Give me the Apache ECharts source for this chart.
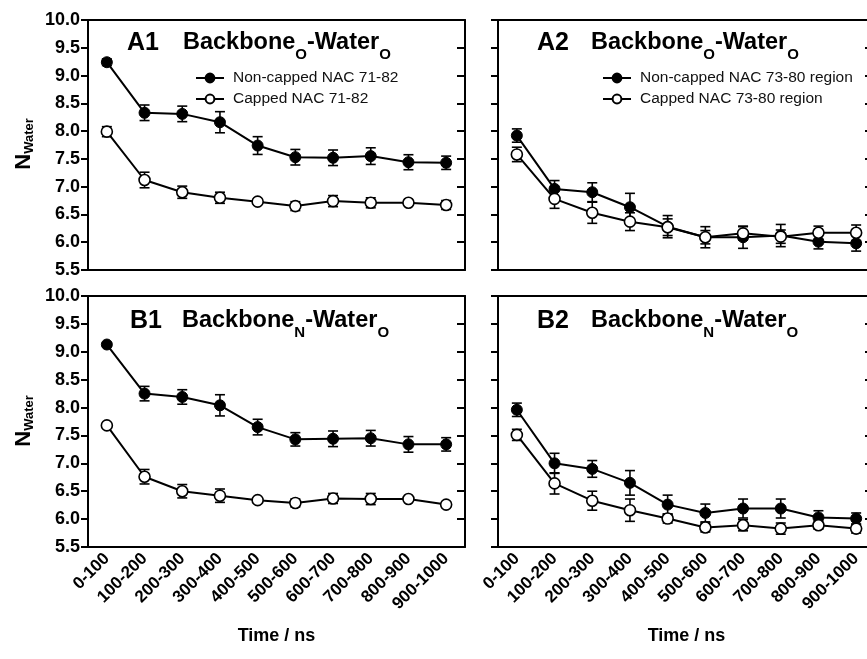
<!DOCTYPE html>
<html>
<head>
<meta charset="utf-8">
<script src="https://cdn.jsdelivr.net/npm/echarts@6/dist/echarts.min.js"></script>
<style>
  html, body { margin: 0; padding: 0; background: #fff; overflow: hidden; }
  /* chart is a little wider than the window: the right frame is cropped like the original figure */
  #root { width: 878px; height: 659px; }
</style>
</head>
<body>
<div id="root"></div>
<script>
const FONT = '"Liberation Sans", Arial, sans-serif';

const categories = ['0-100', '100-200', '200-300', '300-400', '400-500',
    '500-600', '600-700', '700-800', '800-900', '900-1000'];
const yTicks = [5.5, 10.0, 0.5]; // min, max, step

// A1: Backbone_O - Water_O, NAC 71-82
const a1Non = [9.24, 8.33, 8.31, 8.16, 7.74, 7.53, 7.52, 7.55, 7.44, 7.43];
const a1NonErr = [0.06, 0.14, 0.14, 0.19, 0.16, 0.14, 0.14, 0.15, 0.135, 0.12];
const a1Cap = [7.99, 7.12, 6.90, 6.80, 6.73, 6.65, 6.74, 6.71, 6.71, 6.67];
const a1CapErr = [0.09, 0.14, 0.11, 0.10, 0.04, 0.08, 0.10, 0.09, 0.04, 0.08];

// A2: Backbone_O - Water_O, NAC 73-80 region
const a2Non = [7.92, 6.96, 6.90, 6.63, 6.28, 6.09, 6.09, 6.12, 6.01, 5.98];
const a2NonErr = [0.12, 0.15, 0.17, 0.25, 0.20, 0.19, 0.20, 0.20, 0.13, 0.14];
const a2Cap = [7.58, 6.78, 6.53, 6.37, 6.27, 6.09, 6.16, 6.10, 6.17, 6.17];
const a2CapErr = [0.13, 0.17, 0.19, 0.16, 0.15, 0.12, 0.12, 0.12, 0.12, 0.14];

// B1: Backbone_N - Water_O, NAC 71-82
const b1Non = [9.13, 8.25, 8.19, 8.04, 7.65, 7.43, 7.44, 7.45, 7.34, 7.34];
const b1NonErr = [0.03, 0.13, 0.13, 0.19, 0.14, 0.12, 0.14, 0.14, 0.14, 0.12];
const b1Cap = [7.68, 6.76, 6.50, 6.42, 6.34, 6.29, 6.37, 6.36, 6.36, 6.26];
const b1CapErr = [0.03, 0.13, 0.12, 0.12, 0.04, 0.07, 0.09, 0.10, 0.04, 0.05];

// B2: Backbone_N - Water_O, NAC 73-80 region
const b2Non = [7.96, 7.00, 6.90, 6.65, 6.26, 6.11, 6.19, 6.19, 6.03, 6.01];
const b2NonErr = [0.12, 0.18, 0.15, 0.22, 0.17, 0.16, 0.17, 0.17, 0.12, 0.10];
const b2Cap = [7.51, 6.64, 6.33, 6.16, 6.01, 5.85, 5.89, 5.83, 5.89, 5.83];
const b2CapErr = [0.10, 0.19, 0.17, 0.20, 0.08, 0.08, 0.10, 0.10, 0.07, 0.08];

const legendA1 = ['Non-capped NAC 71-82', 'Capped NAC 71-82'];
const legendA2 = ['Non-capped NAC 73-80 region', 'Capped NAC 73-80 region'];

const panels = [
    { non: a1Non, nonErr: a1NonErr, cap: a1Cap, capErr: a1CapErr, names: legendA1 },
    { non: a2Non, nonErr: a2NonErr, cap: a2Cap, capErr: a2CapErr, names: legendA2 },
    { non: b1Non, nonErr: b1NonErr, cap: b1Cap, capErr: b1CapErr, names: ['B1 non-capped', 'B1 capped'] },
    { non: b2Non, nonErr: b2NonErr, cap: b2Cap, capErr: b2CapErr, names: ['B2 non-capped', 'B2 capped'] }
];

const grids = [
    { left: 88, top: 20, width: 377, height: 250 },
    { left: 498, top: 20, width: 377, height: 250 },
    { left: 88, top: 296, width: 377, height: 251 },
    { left: 498, top: 296, width: 377, height: 251 }
];

// measure text so subscripts can be placed after the main text
const ctx = document.createElement('canvas').getContext('2d');
function textWidth(str, size, weight) {
    ctx.font = weight + ' ' + size + 'px ' + FONT;
    return ctx.measureText(str).width;
}
// parts: [text, fontSize, dy]
function subLabel(x, y, parts, rotation, centered) {
    let cx = 0;
    const children = parts.map(p => {
        const el = {
            type: 'text', x: cx, y: p[2],
            style: { text: p[0], fontSize: p[1], fontWeight: 'bold', fontFamily: FONT,
                fill: '#000', align: 'left', verticalAlign: 'middle' }
        };
        cx += textWidth(p[0], p[1], 'bold');
        return el;
    });
    return {
        type: 'group', x: x, y: y, rotation: rotation || 0,
        children: [{ type: 'group', x: centered ? -cx / 2 : 0, children: children }]
    };
}

function errorBar(xi, yi) {
    return {
        type: 'custom',
        xAxisIndex: xi, yAxisIndex: yi,
        z: 1,
        silent: true,
        encode: { x: 0, y: [1, 2] },
        renderItem: function (params, api) {
            const lo = api.coord([api.value(0), api.value(1)]);
            const hi = api.coord([api.value(0), api.value(2)]);
            const w = 5;
            const st = { stroke: '#000', lineWidth: 1.6 };
            return {
                type: 'group', children: [
                    { type: 'line', shape: { x1: lo[0], y1: lo[1], x2: hi[0], y2: hi[1] }, style: st },
                    { type: 'line', shape: { x1: lo[0] - w, y1: lo[1], x2: lo[0] + w, y2: lo[1] }, style: st },
                    { type: 'line', shape: { x1: hi[0] - w, y1: hi[1], x2: hi[0] + w, y2: hi[1] }, style: st }
                ]
            };
        }
    };
}

let xAxis = [];
let yAxis = [];
let series = [];

panels.forEach((p, i) => {
    const bottomRow = i >= 2;
    const leftCol = i % 2 === 0;
    xAxis.push({
        type: 'category', gridIndex: i, data: categories, position: 'bottom',
        axisLine: { lineStyle: { color: '#000', width: 2 } },
        axisTick: { alignWithLabel: true, length: 7, lineStyle: { color: '#000', width: 2 } },
        axisLabel: {
            show: bottomRow, rotate: 45, margin: 9, color: '#000',
            fontSize: 17, fontWeight: 'bold', fontFamily: FONT
        },
        name: bottomRow ? 'Time / ns' : '',
        nameLocation: 'middle', nameGap: 80,
        nameTextStyle: { color: '#000', fontSize: 18, fontWeight: 'bold', fontFamily: FONT }
    });
    yAxis.push({
        type: 'value', gridIndex: i, min: yTicks[0], max: yTicks[1], interval: yTicks[2],
        position: 'left',
        axisLine: { show: true, lineStyle: { color: '#000', width: 2 } },
        axisTick: { show: true, length: 7, lineStyle: { color: '#000', width: 2 } },
        axisLabel: {
            show: leftCol, margin: 8, color: '#000', fontSize: 18, fontWeight: 'bold',
            fontFamily: FONT, formatter: v => v.toFixed(1)
        },
        splitLine: { show: false }
    });
});
// mirrored top / right frame with inward ticks
panels.forEach((p, i) => {
    const leftCol = i % 2 === 0;
    xAxis.push({
        type: 'category', gridIndex: i, data: categories, position: 'top',
        axisLine: { lineStyle: { color: '#000', width: 2 } },
        axisTick: { alignWithLabel: true, inside: true, length: 7, lineStyle: { color: '#000', width: 2 } },
        axisLabel: { show: false }
    });
    yAxis.push({
        type: 'value', gridIndex: i, min: yTicks[0], max: yTicks[1], interval: yTicks[2],
        position: 'right',
        axisLine: { show: true, lineStyle: { color: '#000', width: 2 } },
        axisTick: { show: true, inside: true, length: leftCol ? 8 : 10, lineStyle: { color: '#000', width: 2 } },
        axisLabel: { show: false },
        splitLine: { show: false }
    });
});

panels.forEach((p, i) => {
    series.push(Object.assign(errorBar(i, i), {
        data: p.non.map((v, k) => [k, v - p.nonErr[k], v + p.nonErr[k]])
    }));
    series.push(Object.assign(errorBar(i, i), {
        data: p.cap.map((v, k) => [k, v - p.capErr[k], v + p.capErr[k]])
    }));
    series.push({
        name: p.names[0], type: 'line', xAxisIndex: i, yAxisIndex: i, z: 3,
        data: p.non, symbol: 'circle', symbolSize: 11,
        lineStyle: { color: '#000', width: 2 },
        itemStyle: { color: '#000', borderColor: '#000', borderWidth: 1 }
    });
    series.push({
        name: p.names[1], type: 'line', xAxisIndex: i, yAxisIndex: i, z: 4,
        data: p.cap, symbol: 'circle', symbolSize: 11,
        lineStyle: { color: '#000', width: 2 },
        itemStyle: { color: '#fff', borderColor: '#000', borderWidth: 1.6 }
    });
});

const legendBase = {
    orient: 'vertical', itemWidth: 28, itemHeight: 11, itemGap: 5,
    textStyle: { color: '#111', fontSize: 15.5, fontFamily: FONT, lineHeight: 16, padding: [0, 0, 0, 4] }
};

function titleParts(sub1) {
    return [['Backbone', 23.5, 0], [sub1, 15, 12], ['-Water', 23.5, 0], ['O', 15, 12]];
}
function yName(x, y) {
    return subLabel(x, y, [['N', 22, 0], ['Water', 13, 5]], Math.PI / 2, true);
}
function bigLabel(x, y, t) {
    return { type: 'text', x: x, y: y, style: { text: t, fontSize: 25, fontWeight: 'bold',
        fontFamily: FONT, fill: '#000', verticalAlign: 'middle' } };
}

const myChart = echarts.init(document.getElementById('root'), null, { renderer: 'canvas' });
const option = {
    animation: false,
    backgroundColor: '#fff',
    grid: grids,
    xAxis: xAxis,
    yAxis: yAxis,
    legend: [
        Object.assign({}, legendBase, { data: legendA1, left: 190, top: 65 }),
        Object.assign({}, legendBase, { data: legendA2, left: 597, top: 65 })
    ],
    graphic: [
        bigLabel(127, 43, 'A1'),
        subLabel(183, 43, titleParts('O')),
        bigLabel(537, 43, 'A2'),
        subLabel(591, 43, titleParts('O')),
        bigLabel(130, 321, 'B1'),
        subLabel(182, 321, titleParts('N')),
        bigLabel(537, 321, 'B2'),
        subLabel(591, 321, titleParts('N')),
        yName(24, 144),
        yName(24, 421)
    ],
    series: series
};
myChart.setOption(option);
</script>
</body>
</html>
